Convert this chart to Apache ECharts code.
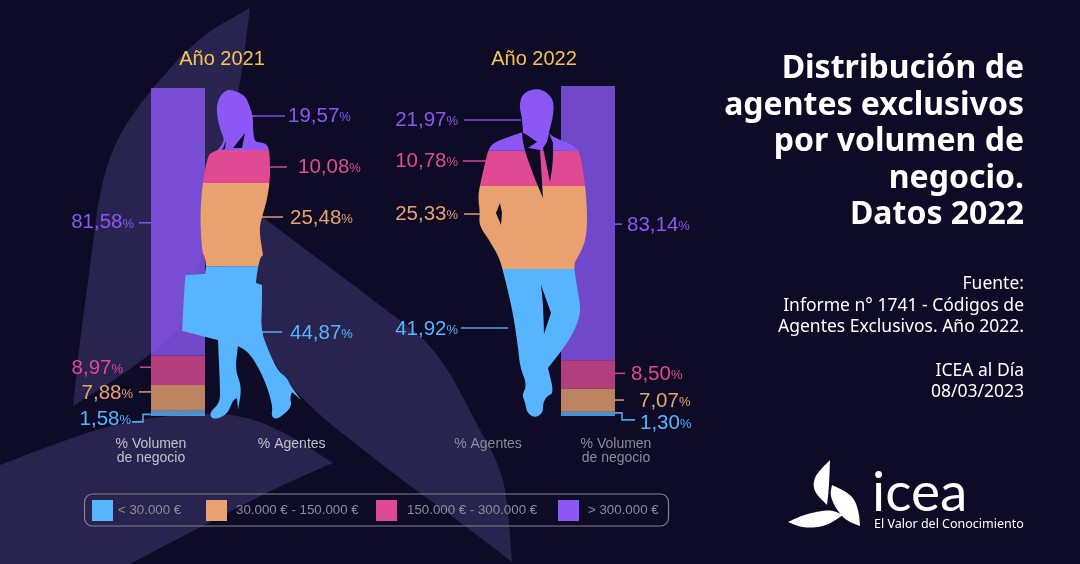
<!DOCTYPE html>
<html>
<head>
<meta charset="utf-8">
<style>html,body{margin:0;padding:0;background:#0d0b26}#chart{width:1080px;height:564px}</style>
<script src="https://cdn.jsdelivr.net/npm/echarts@6/dist/echarts.min.js"></script>
</head>
<body>
<div id="chart"></div>
<script>
// values, ordered from the lowest range to the highest
var ranges = ['< 30.000 €', '30.000 € - 150.000 €', '150.000 € - 300.000 €', '> 300.000 €'];
var volumen2021 = [1.58, 7.88, 8.97, 81.58];
var agentes2021 = [44.87, 25.48, 10.08, 19.57];
var agentes2022 = [41.92, 25.33, 10.78, 21.97];
var volumen2022 = [1.30, 7.07, 8.50, 83.14];
var catVolumen = ['% Volumen\nde negocio'];
var catAgentes = ['% Agentes'];

var colors = ['#57b4ff', '#e8a16f', '#df4a93', '#8c57f4'];
var font = '"Liberation Sans", Arial, sans-serif';
var uiFont = '"Noto Sans", sans-serif';

// rounds a control polygon, a third element 1 keeps that point as a hard corner
function curve(ctrl) {
    var pts = [];
    ctrl.forEach(function (p) {
        pts.push(p);
        if (p[2]) pts.push(p);
    });
    var out = [];
    var n = pts.length;
    for (var i = 0; i < n; i++) {
        var p0 = pts[i];
        var p1 = pts[(i + 1) % n];
        var p2 = pts[(i + 2) % n];
        var ax = (p0[0] + p1[0]) / 2, ay = (p0[1] + p1[1]) / 2;
        var bx = (p1[0] + p2[0]) / 2, by = (p1[1] + p2[1]) / 2;
        for (var k = 0; k < 6; k++) {
            var t = k / 6;
            out.push([
                (1 - t) * (1 - t) * ax + 2 * t * (1 - t) * p1[0] + t * t * bx,
                (1 - t) * (1 - t) * ay + 2 * t * (1 - t) * p1[1] + t * t * by
            ]);
        }
    }
    return out;
}

function toPath(pts) {
    return 'M' + pts.map(function (p) { return p[0].toFixed(1) + ' ' + p[1].toFixed(1); }).join('L') + 'Z';
}

function bbox(pts) {
    var xs = pts.map(function (p) { return p[0]; });
    var ys = pts.map(function (p) { return p[1]; });
    var x = Math.min.apply(null, xs), y = Math.min.apply(null, ys);
    return { x: x, y: y, width: Math.max.apply(null, xs) - x, height: Math.max.apply(null, ys) - y };
}

// silhouettes are only masks, the colour bands come from the data
var womanOutline = [[232, 90], [245, 95], [250, 107], [253, 117], [253, 127], [254, 140], [257, 142, 1], [265, 143], [269, 148], [270, 163], [270, 180], [267, 200], [262, 217], [259, 230], [263, 255, 1], [260, 258], [257, 273], [256, 283, 1], [262, 285, 1], [262, 303], [261, 330], [267, 347], [277, 370], [287, 378], [290, 385], [301, 400, 1], [292, 392, 1], [290, 398], [292, 407], [277, 420], [271, 416], [273, 407], [265, 380], [250, 353], [238, 346, 1], [235, 370], [242, 387], [238, 410, 1], [237, 398, 1], [233, 400], [227, 415], [213, 420], [209, 413], [220, 403], [220, 387], [218, 340, 1], [182, 331, 1], [185, 277], [186, 275, 1], [205, 274, 1], [206, 267, 1], [205, 257], [202, 253], [200, 213], [203, 180], [208, 155], [213, 152], [218, 150], [225, 140], [220, 130], [216, 110], [219, 97], [226, 90]];
var womanHoles = [[[245, 133, 1], [233, 148, 1], [242, 148, 1]], [[226, 141, 1], [222, 150, 1], [225, 149, 1]]];
var manOutline = [[537, 88], [548, 93], [554, 102], [553, 117], [549, 132, 1], [550, 135], [560, 140], [575, 146], [580, 153], [584, 177], [587, 203], [587, 240], [575, 262, 1], [574, 270], [580, 303], [580, 317], [570, 340], [548, 368, 1], [554, 393], [547, 396], [543, 403], [543, 413], [535, 418], [527, 413], [525, 402], [522, 395], [527, 385], [520, 367], [518, 347], [513, 313], [503, 270], [498, 255], [487, 237], [482, 230], [479, 222], [480, 213], [478, 197], [480, 185], [485, 163], [489, 147], [497, 141], [523, 132, 1], [522, 118], [519, 105], [523, 93]];
var manHoles = [
    [[522, 132, 1], [523, 145], [532, 172], [543, 198, 1], [540, 150, 1], [528, 148, 1], [537, 142, 1], [527, 135, 1]],
    [[549, 133, 1], [547, 142, 1], [543, 148, 1], [550, 182, 1], [553, 163], [553, 143, 1]],
    [[500, 203, 1], [496, 213, 1], [501, 225, 1], [502, 213, 1]],
    [[541, 285, 1], [543, 303], [544, 334, 1], [551, 313, 1]]
];

// leader lines: dy from the band centre, x1-x2 in pixels, where the text starts or ends
var calloutsVol21 = [
    { dy: 1, x1: 132, x2: 151, elbowX: 143, elbowDy: 7.5, textX: 131, align: 'right', textDy: 5 },
    { dy: -6, x1: 139, x2: 151, textX: 133, align: 'right', textDy: 1 },
    { dy: -3, x1: 140, x2: 151, textX: 123, align: 'right', textDy: 1 },
    { dy: 1, x1: 139, x2: 151, textX: 134, align: 'right', textDy: 0 }
];
var calloutsAge21 = [
    { dy: -7.6, x1: 261, x2: 282, textX: 290, align: 'left', textDy: 1 },
    { dy: -7.6, x1: 261, x2: 283, textX: 290, align: 'left', textDy: 1 },
    { dy: 0.5, x1: 270, x2: 287, textX: 298, align: 'left', textDy: 0 },
    { dy: -2, x1: 252, x2: 285, textX: 288, align: 'left', textDy: 0 }
];
var calloutsAge22 = [
    { dy: -9.5, x1: 461, x2: 508, textX: 458, align: 'right', textDy: 1 },
    { dy: -13.5, x1: 464, x2: 480, textX: 458, align: 'right', textDy: 0 },
    { dy: -7.5, x1: 463, x2: 486, textX: 458, align: 'right', textDy: 0 },
    { dy: 5, x1: 464, x2: 521, textX: 458, align: 'right', textDy: 0 }
];
var calloutsVol22 = [
    { dy: -1, x1: 615, x2: 635, elbowX: 622, elbowDy: 7, textX: 640, align: 'left', textDy: 10 },
    { dy: 0, x1: 615, x2: 624, textX: 639, align: 'left', textDy: 1 },
    { dy: -1, x1: 615, x2: 625, textX: 631, align: 'left', textDy: 1 },
    { dy: 1, x1: 615, x2: 622, textX: 627, align: 'left', textDy: 1 }
];

function fmt(v) {
    return v.toFixed(2).replace('.', ',');
}

function bandRows(values) {
    var rows = [];
    var acc = 0;
    values.forEach(function (v) {
        rows.push([0, acc, acc + v, v]);
        acc += v;
    });
    return rows;
}

var grids = [
    { left: 151, top: 88, width: 54, height: 328 },
    { left: 181.7, top: 86, width: 119, height: 327 },
    { left: 478.3, top: 79, width: 108.4, height: 327 },
    { left: 561, top: 86, width: 54, height: 330 }
];

function silhouetteSeries(values, gridIndex, outline, holes) {
    var rows = bandRows(values);
    var pts = curve(outline);
    var box = bbox(pts);
    var path = toPath(pts) + holes.map(function (h) { return toPath(curve(h)); }).join('');
    var g = grids[gridIndex];
    return values.map(function (v, i) {
        return {
            type: 'custom',
            name: ranges[i],
            xAxisIndex: gridIndex,
            yAxisIndex: gridIndex,
            silent: true,
            z: 3,
            data: [rows[i]],
            renderItem: function (params, api) {
                var low = api.coord([0, api.value(1)]);
                var high = api.coord([0, api.value(2)]);
                // shoes and head go past the axis ends
                var y0 = i === values.length - 1 ? high[1] - 14 : high[1];
                var y1 = i === 0 ? low[1] + 16 : low[1];
                return {
                    type: 'path',
                    shape: {
                        pathData: path,
                        layout: 'cover',
                        x: low[0] + box.x - (g.left + g.width / 2),
                        y: box.y,
                        width: box.width,
                        height: box.height
                    },
                    clipPath: { type: 'rect', shape: { x: 0, y: y0, width: 1080, height: y1 - y0 } },
                    style: { fill: colors[i] }
                };
            }
        };
    });
}

function volumeSeries(values, gridIndex, stack) {
    return values.map(function (v, i) {
        return {
            type: 'bar',
            name: ranges[i],
            stack: stack,
            xAxisIndex: gridIndex,
            yAxisIndex: gridIndex,
            barWidth: '100%',
            silent: true,
            z: 2,
            itemStyle: { color: colors[i], opacity: 0.8 },
            data: [v]
        };
    });
}

function calloutSeries(values, gridIndex, layout) {
    return {
        type: 'custom',
        xAxisIndex: gridIndex,
        yAxisIndex: gridIndex,
        silent: true,
        z: 5,
        data: bandRows(values),
        renderItem: function (params, api) {
            var i = params.dataIndex;
            var c = layout[i];
            var mid = (api.coord([0, api.value(1)])[1] + api.coord([0, api.value(2)])[1]) / 2;
            var y = mid + c.dy;
            var pts = c.elbowX
                ? (c.align === 'right'
                    ? [[c.x1, y + c.elbowDy], [c.elbowX, y + c.elbowDy], [c.elbowX, y], [c.x2, y]]
                    : [[c.x1, y], [c.elbowX, y], [c.elbowX, y + c.elbowDy], [c.x2, y + c.elbowDy]])
                : [[c.x1, y], [c.x2, y]];
            return {
                type: 'group',
                children: [
                    {
                        type: 'polyline',
                        shape: { points: pts },
                        style: { stroke: colors[i], lineWidth: 1.6, fill: null, opacity: 0.9 }
                    },
                    {
                        type: 'text',
                        style: {
                            x: c.textX,
                            y: y + c.textDy,
                            align: c.align,
                            verticalAlign: 'middle',
                            text: '{v|' + fmt(api.value(3)) + '}{p|%}',
                            rich: {
                                v: { fontFamily: font, fontSize: 20.5, fill: colors[i] },
                                p: { fontFamily: font, fontSize: 13, fill: colors[i], padding: [3, 0, 0, 0] }
                            }
                        }
                    }
                ]
            };
        }
    };
}

function catAxis(gridIndex, cats, color, margin, padding) {
    return {
        type: 'category',
        gridIndex: gridIndex,
        data: cats,
        axisLine: { show: false },
        axisTick: { show: false },
        axisLabel: {
            color: color,
            fontFamily: font,
            fontSize: 14,
            lineHeight: 14,
            margin: margin,
            padding: padding,
            align: 'center',
            verticalAlign: 'top'
        }
    };
}

function valAxis(gridIndex) {
    return { type: 'value', gridIndex: gridIndex, min: 0, max: 100.01, show: false };
}

var series = []
    .concat(volumeSeries(volumen2021, 0, 'v21'))
    .concat(silhouetteSeries(agentes2021, 1, womanOutline, womanHoles))
    .concat(silhouetteSeries(agentes2022, 2, manOutline, manHoles))
    .concat(volumeSeries(volumen2022, 3, 'v22'))
    .concat([
        calloutSeries(volumen2021, 0, calloutsVol21),
        calloutSeries(agentes2021, 1, calloutsAge21),
        calloutSeries(agentes2022, 2, calloutsAge22),
        calloutSeries(volumen2022, 3, calloutsVol22)
    ]);

// one legend per entry because the gaps in the reference are uneven
var legendLeft = [92, 206, 376, 558];
var legendGap = [0, 4, 5, 4];
var legends = ranges.map(function (r, i) {
    return {
        left: legendLeft[i],
        top: 500,
        padding: 0,
        itemWidth: 21,
        itemHeight: 21,
        selectedMode: false,
        icon: 'rect',
        data: [{ name: r, itemStyle: { color: colors[i], opacity: 1, borderWidth: 0 } }],
        textStyle: {
            color: '#8d8c98',
            fontFamily: font,
            fontSize: 13.3,
            padding: [0, 0, 0, legendGap[i]]
        }
    };
});

function shape(ctrl, fill, z) {
    return { type: 'polygon', silent: true, z: z, shape: { points: curve(ctrl) }, style: { fill: fill } };
}

var bg = '#28244f';
var option = {
    backgroundColor: '#0d0b26',
    animation: false,
    title: [
        { text: 'Año 2021', left: 222, top: 49, padding: 0, textAlign: 'center', textStyle: { color: '#f6c453', fontFamily: font, fontSize: 20, fontWeight: 'normal' } },
        { text: 'Año 2022', left: 534, top: 49, padding: 0, textAlign: 'center', textStyle: { color: '#f6c453', fontFamily: font, fontSize: 20, fontWeight: 'normal' } },
        {
            text: 'Distribución de\nagentes exclusivos\npor volumen de\nnegocio.\nDatos 2022',
            left: 1024, top: 51, padding: 0, textAlign: 'right',
            textStyle: { color: '#ffffff', fontFamily: uiFont, fontSize: 32, fontWeight: 'bold', lineHeight: 36.5 }
        },
        {
            text: 'Fuente:\nInforme n° 1741 - Códigos de\nAgentes Exclusivos. Año 2022.\n\nICEA al Día\n08/03/2023',
            left: 1024, top: 273, padding: 0, textAlign: 'right',
            textStyle: { color: '#ffffff', fontFamily: uiFont, fontSize: 17.5, fontWeight: 'normal', lineHeight: 21.7 }
        }
    ],
    legend: legends,
    grid: grids,
    xAxis: [
        catAxis(0, catVolumen, '#c3c2cc', 21, [0, 54, 0, 0]),
        catAxis(1, catAgentes, '#c3c2cc', 24, [0, 0, 0, 101]),
        catAxis(2, catAgentes, '#8d8c98', 31, [0, 89, 0, 0]),
        catAxis(3, catVolumen, '#8d8c98', 21, [0, 0, 0, 56])
    ],
    yAxis: [valAxis(0), valAxis(1), valAxis(2), valAxis(3)],
    graphic: [
        // backdrop leaves
        shape([[250, 8, 1], [241, 80], [232, 120], [215, 180], [205, 240], [195, 290], [183, 328], [130, 370], [73, 406, 1], [80, 340], [90, 267], [100, 187], [117, 137], [150, 90], [200, 36]], bg, -10),
        shape([[205, 170, 1], [263, 218], [347, 280], [390, 313], [423, 337], [450, 372], [473, 417], [502, 470], [508, 510], [512, 562, 1], [460, 522], [409, 485], [380, 463], [300, 400], [262, 345], [230, 290], [210, 230]], bg, -10),
        shape([[0, 465, 1], [60, 442], [105, 427], [150, 417], [227, 412], [277, 427], [333, 463, 1], [282, 485], [200, 527], [130, 564, 1], [0, 564, 1]], bg, -10),
        // legend frame
        { type: 'rect', silent: true, z: -5, shape: { x: 84.5, y: 494, width: 584, height: 32, r: 8 }, style: { fill: null, stroke: '#85838f', lineWidth: 1.2 } },
        // logo
        shape([[830, 460, 1], [817, 473], [813, 483], [815, 493], [827, 505, 1], [829, 487]], '#fff', 1),
        shape([[832, 485, 1], [847, 492], [855, 500], [859, 513], [860, 526, 1], [845, 520], [835, 507], [830, 495]], '#fff', 1),
        shape([[788, 522, 1], [803, 515], [820, 511], [832, 510], [843, 515, 1], [828, 525], [813, 528], [800, 527]], '#fff', 1),
        { type: 'text', silent: true, style: { x: 872, y: 521, text: 'icea', fill: '#fff', fontFamily: 'Lato, sans-serif', fontSize: 55, verticalAlign: 'bottom' } },
        { type: 'text', silent: true, style: { x: 874, y: 524, text: 'El Valor del Conocimiento', fill: '#fff', fontFamily: uiFont, fontSize: 12.5, verticalAlign: 'middle' } }
    ],
    series: series
};

var myChart = echarts.init(document.getElementById('chart'), null, { renderer: 'canvas' });
myChart.setOption(option);
window.addEventListener('resize', myChart.resize);
</script>
</body>
</html>
